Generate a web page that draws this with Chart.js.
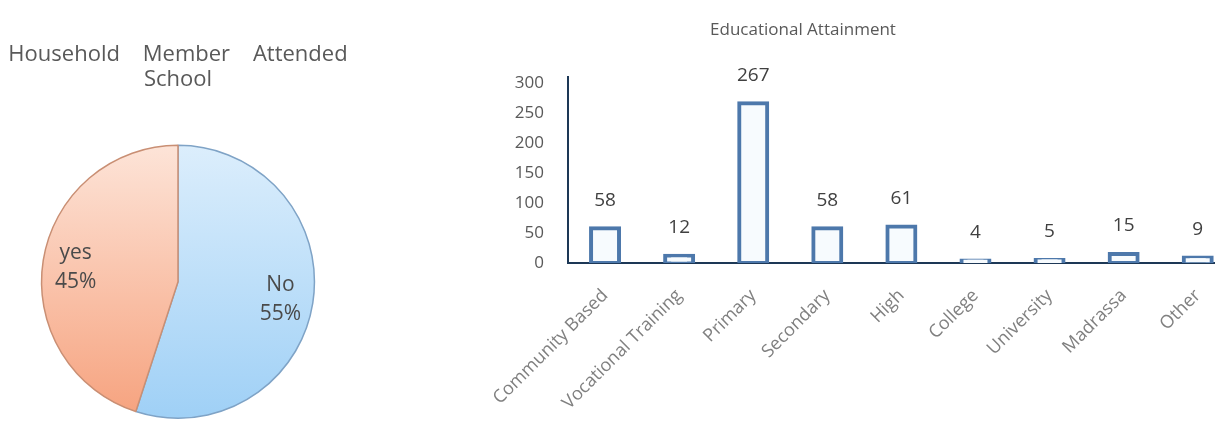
<!DOCTYPE html>
<html>
<head>
<meta charset="utf-8">
<script src="https://cdn.jsdelivr.net/npm/chart.js@4.4.0/dist/chart.umd.min.js"></script>
<style>
  html, body { margin: 0; padding: 0; background: #fff; overflow: hidden; }
  body { width: 1215px; height: 426px; position: relative; }
  #pieWrap { position: absolute; left: 0; top: 0; width: 360px; height: 426px; }
  #barWrap { position: absolute; left: 371px; top: 0; width: 864px; height: 426px; }
</style>
</head>
<body>
<div id="pieWrap"><canvas id="pieChart"></canvas></div>
<div id="barWrap"><canvas id="barChart"></canvas></div>
<script>
// Pie: household member attended school
const pieTitle = ["Household    Member    Attended", "School"];
const pieLabels = ["No", "yes"];
const pieValues = [55, 45];

// Bar: educational attainment
const barTitle = "Educational Attainment";
const barLabels = [
  "Community Based",
  "Vocational Training",
  "Primary",
  "Secondary",
  "High",
  "College",
  "University",
  "Madrassa",
  "Other",
];
const barValues = [58, 12, 267, 58, 61, 4, 5, 15, 9];
const yTicks = [0, 50, 100, 150, 200, 250, 300];

const FONT = "'Open Sans', 'DejaVu Sans', sans-serif";

// pie gradients, light at top, deeper toward the bottom
const pieGradients = [
  ["#dceefc", "#9fd0f6"], // No
  ["#fde4d8", "#f6a27e"], // yes
];
const pieBorders = ["#7fa3c6", "#c98f74"];

const pieLabelPlugin = {
  id: "pieLabels",
  afterDatasetsDraw(chart) {
    const { ctx } = chart;
    const meta = chart.getDatasetMeta(0);
    const total = pieValues.reduce((a, b) => a + b, 0);
    ctx.save();
    ctx.font = `21px ${FONT}`;
    ctx.fillStyle = "#4a4a4a";
    ctx.textAlign = "center";
    ctx.textBaseline = "middle";
    meta.data.forEach((arc, i) => {
      const { x, y, startAngle, endAngle, outerRadius } = arc.getProps(
        ["x", "y", "startAngle", "endAngle", "outerRadius"],
        true
      );
      const mid = (startAngle + endAngle) / 2;
      const d = outerRadius * 0.76;
      const cx = x + Math.cos(mid) * d;
      const cy = y + Math.sin(mid) * d;
      const pct = Math.round((pieValues[i] / total) * 100) + "%";
      ctx.fillText(pieLabels[i], cx, cy - 13);
      ctx.fillText(pct, cx, cy + 16);
    });
    ctx.restore();
  },
};

const barValuePlugin = {
  id: "barValues",
  afterDatasetsDraw(chart) {
    const { ctx } = chart;
    const meta = chart.getDatasetMeta(0);
    ctx.save();
    ctx.font = `19px ${FONT}`;
    ctx.fillStyle = "#404040";
    ctx.textAlign = "center";
    ctx.textBaseline = "middle";
    meta.data.forEach((bar, i) => {
      ctx.fillText(String(barValues[i]), bar.x, bar.y - 28);
    });
    ctx.restore();
  },
};

new Chart(document.getElementById("pieChart"), {
  type: "pie",
  data: {
    labels: pieLabels,
    datasets: [
      {
        data: pieValues,
        backgroundColor: (c) => {
          const area = c.chart.chartArea;
          if (!area) return pieGradients[c.dataIndex][0];
          const g = c.chart.ctx.createLinearGradient(0, area.top, 0, area.bottom);
          g.addColorStop(0, pieGradients[c.dataIndex][0]);
          g.addColorStop(1, pieGradients[c.dataIndex][1]);
          return g;
        },
        borderColor: pieBorders,
        borderWidth: 1.5,
      },
    ],
  },
  options: {
    responsive: true,
    maintainAspectRatio: false,
    animation: false,
    layout: { padding: { left: 2, right: 6, bottom: 7 } },
    plugins: {
      legend: { display: false },
      tooltip: { enabled: false },
      title: {
        display: true,
        text: pieTitle,
        color: "#595959",
        font: { family: FONT, size: 22, weight: "normal", lineHeight: 1.15 },
        padding: { top: 42, bottom: 52 },
      },
    },
  },
  plugins: [pieLabelPlugin],
});

new Chart(document.getElementById("barChart"), {
  type: "bar",
  data: {
    labels: barLabels,
    datasets: [
      {
        data: barValues,
        backgroundColor: "#f7fbfe",
        borderColor: "#4d78ab",
        borderWidth: 4,
        borderSkipped: false,
        barThickness: 28,
        inflateAmount: 2,
      },
    ],
  },
  options: {
    responsive: true,
    maintainAspectRatio: false,
    animation: false,
    layout: { padding: 0 },
    plugins: {
      legend: { display: false },
      tooltip: { enabled: false },
      title: {
        display: true,
        text: barTitle,
        color: "#595959",
        font: { family: FONT, size: 17, weight: "normal", lineHeight: 1.2 },
        padding: { top: 20, bottom: 37 },
      },
    },
    scales: {
      x: {
        grid: { display: false, drawTicks: false },
        border: { display: true, color: "#1d3856", width: 2 },
        ticks: {
          color: "#808080",
          font: { family: FONT, size: 18 },
          minRotation: 45,
          maxRotation: 45,
          autoSkip: false,
          padding: 22,
        },
        afterFit: (scale) => {
          scale.height = 163;
        },
      },
      y: {
        min: 0,
        max: 310,
        grid: { display: false, drawTicks: false },
        border: { display: true, color: "#1d3856", width: 2 },
        ticks: {
          stepSize: 50,
          color: "#595959",
          font: { family: FONT, size: 17 },
          padding: 24,
        },
        afterBuildTicks: (scale) => {
          scale.ticks = yTicks.map((v) => ({ value: v }));
        },
        afterFit: (scale) => {
          scale.width = 197;
        },
      },
    },
  },
  plugins: [barValuePlugin],
});
</script>
</body>
</html>
